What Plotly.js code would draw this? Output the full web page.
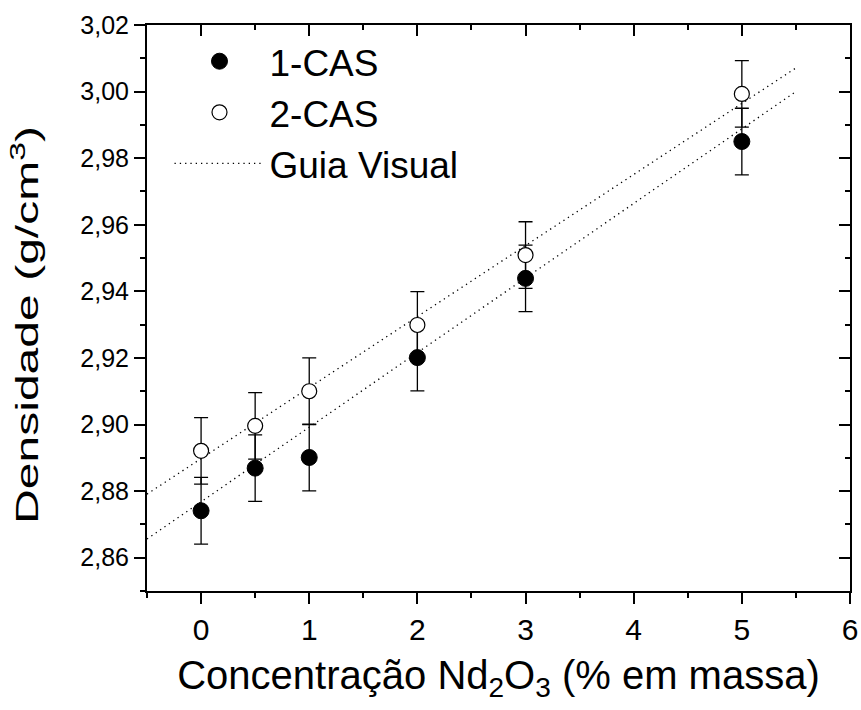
<!DOCTYPE html>
<html>
<head>
<meta charset="utf-8">
<script src="https://cdn.plot.ly/plotly-3.0.1.min.js"></script>
<style>body{margin:0;background:#fff;}#chart{width:861px;height:710px;}</style>
</head>
<body>
<div id="chart"></div>
<script>
// Data
const concentration = [0, 0.5, 1, 2, 3, 5];
const density1CAS = [2.8741, 2.8869, 2.8901, 2.9201, 2.9439, 2.9850];
const density2CAS = [2.8921, 2.8996, 2.9100, 2.9299, 2.9509, 2.9993];
const error1CAS = [0.01, 0.01, 0.01, 0.01, 0.01, 0.01];
const error2CAS = [0.01, 0.01, 0.01, 0.01, 0.01, 0.01];
const guideX = [-0.5, 5.5];
const guide1Y = [2.8656, 3.0000];
const guide2Y = [2.8791, 3.0071];
const seriesNames = ['1-CAS', '2-CAS', 'Guia Visual'];

const dotDash = '1.3px,4px';
const guideLine = {color: '#000', width: 1.3, dash: dotDash};
const traces = [
  {x: guideX, y: guide1Y, mode: 'lines', name: seriesNames[2], showlegend: false, line: guideLine, hoverinfo: 'skip'},
  {x: guideX, y: guide2Y, mode: 'lines', name: seriesNames[2], showlegend: false, line: guideLine, hoverinfo: 'skip'},
  {x: concentration, y: density1CAS, mode: 'markers', name: seriesNames[0],
   marker: {symbol: 'circle', size: 16, color: '#000', line: {color: '#000', width: 1}},
   error_y: {type: 'data', array: error1CAS, visible: true, color: '#000', thickness: 1.3, width: 7}},
  {x: concentration, y: density2CAS, mode: 'markers', name: seriesNames[1],
   marker: {symbol: 'circle', size: 15, color: '#fff', line: {color: '#000', width: 1.2}},
   error_y: {type: 'data', array: error2CAS, visible: true, color: '#000', thickness: 1.3, width: 7}},
  {x: [null], y: [null], mode: 'lines', name: seriesNames[2], line: guideLine},
  {x: [], y: [], xaxis: 'x2', yaxis: 'y2', showlegend: false, hoverinfo: 'skip'}
];

const xr = [-0.5, 6], yr = [2.85, 3.02];
const sans = 'Liberation Sans, Arial, sans-serif';
const layout = {
  width: 861, height: 710,
  margin: {l: 147, r: 11, t: 25, b: 119},
  paper_bgcolor: '#fff', plot_bgcolor: '#fff',
  separators: ',.',
  showlegend: true,
  legend: {x: 0.032, y: 0.99, xanchor: 'left', yanchor: 'top', bgcolor: 'rgba(0,0,0,0)',
           font: {family: sans, size: 37, color: '#000'},
           itemwidth: 90, tracegroupgap: 0, traceorder: 'normal'},
  xaxis: {range: xr, dtick: 1, tick0: 0, ticks: 'outside', ticklen: 11, tickwidth: 2, tickcolor: '#000',
          showline: true, linewidth: 2, linecolor: '#000', showgrid: false, zeroline: false,
          tickfont: {family: sans, size: 30, color: '#000'},
          minor: {dtick: 0.5, tick0: 0, ticks: 'outside', ticklen: 5, tickwidth: 2, tickcolor: '#000', showgrid: false},
          title: {text: 'Concentração Nd<sub>2</sub>O<sub>3</sub> (% em massa)', standoff: 16,
                  font: {family: sans, size: 40, color: '#000'}}},
  yaxis: {range: yr, dtick: 0.02, tick0: 2.86, tickformat: '.2f', ticks: 'outside', ticklen: 11, tickwidth: 2, tickcolor: '#000',
          showline: true, linewidth: 2, linecolor: '#000', showgrid: false, zeroline: false,
          tickfont: {family: sans, size: 25, color: '#000'},
          minor: {dtick: 0.01, tick0: 2.85, ticks: 'outside', ticklen: 5, tickwidth: 2, tickcolor: '#000', showgrid: false},
          title: {text: 'Densidade (g/cm<sup>3</sup>)', standoff: 32,
                  font: {family: sans, size: 31, color: '#000'}}},
  xaxis2: {range: xr, overlaying: 'x', side: 'top', anchor: 'y2', dtick: 1, tick0: 0, ticks: 'inside', ticklen: 11, tickwidth: 2,
           tickcolor: '#000', showticklabels: false, showline: true, linewidth: 2, linecolor: '#000', showgrid: false, zeroline: false,
           minor: {dtick: 0.5, tick0: 0, ticks: 'inside', ticklen: 5, tickwidth: 2, tickcolor: '#000', showgrid: false}},
  yaxis2: {range: yr, overlaying: 'y', side: 'right', anchor: 'x2', dtick: 0.02, tick0: 2.86, ticks: 'inside', ticklen: 11, tickwidth: 2,
           tickcolor: '#000', showticklabels: false, showline: true, linewidth: 2, linecolor: '#000', showgrid: false, zeroline: false,
           minor: {dtick: 0.01, tick0: 2.85, ticks: 'inside', ticklen: 5, tickwidth: 2, tickcolor: '#000', showgrid: false}}
};
Plotly.newPlot('chart', traces, layout, {displayModeBar: false, staticPlot: true}).then(function (gd) {
  // stretch the y-axis title to the length seen in the reference
  const yt = gd.querySelector('.ytitle');
  if (yt) {
    yt.setAttribute('textLength', '398');
    yt.setAttribute('lengthAdjust', 'spacingAndGlyphs');
    yt.setAttribute('transform', 'translate(0,17) ' + (yt.getAttribute('transform') || ''));
  }
});
</script>
</body>
</html>
